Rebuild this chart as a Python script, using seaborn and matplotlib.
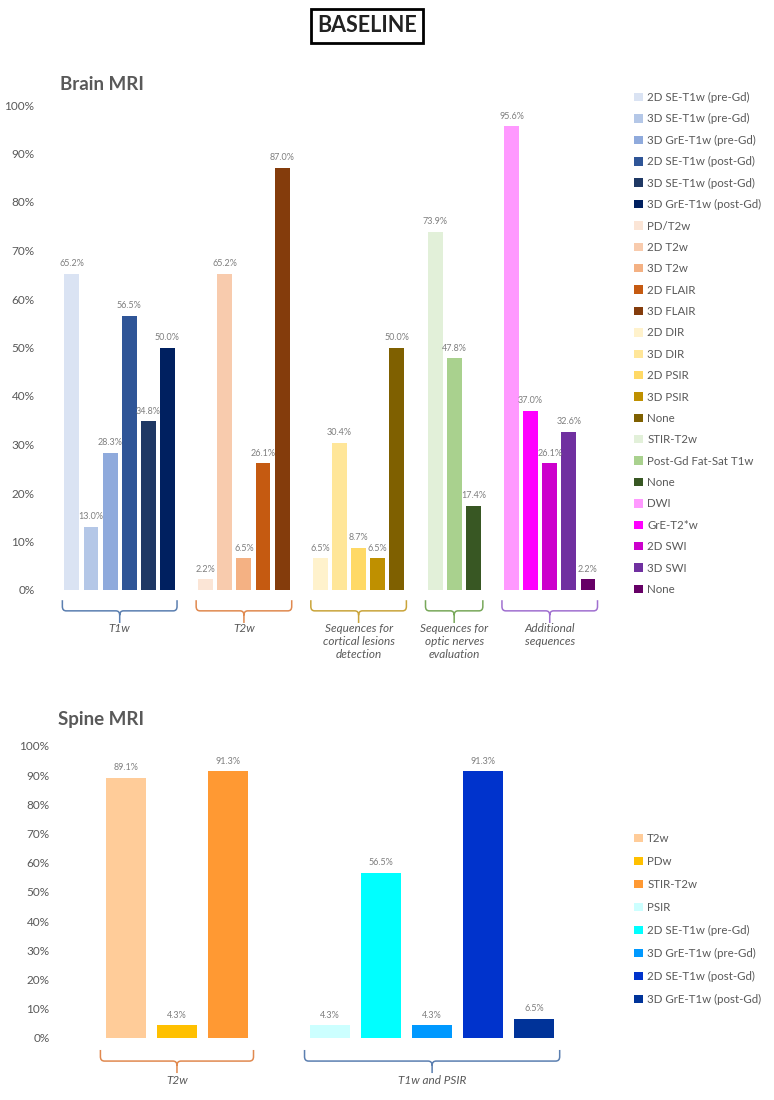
import numpy as np
import pandas as pd
import matplotlib
matplotlib.use('Agg')
import matplotlib.pyplot as plt
import seaborn as sns
from matplotlib.patches import Patch, PathPatch
from matplotlib.path import Path
from matplotlib.ticker import PercentFormatter
from matplotlib.transforms import blended_transform_factory

sns.set_theme(style='white')
plt.rcParams['font.family'] = ['Lato', 'DejaVu Sans']

# ---- data: brain MRI ----
brain_labels = ['2D SE-T1w (pre-Gd)', '3D SE-T1w (pre-Gd)', '3D GrE-T1w (pre-Gd)',
                '2D SE-T1w (post-Gd)', '3D SE-T1w (post-Gd)', '3D GrE-T1w (post-Gd)',
                'PD/T2w', '2D T2w', '3D T2w', '2D FLAIR', '3D FLAIR',
                '2D DIR', '3D DIR', '2D PSIR', '3D PSIR', 'None',
                'STIR-T2w', 'Post-Gd Fat-Sat T1w', 'None',
                'DWI', 'GrE-T2*w', '2D SWI', '3D SWI', 'None']
brain_values = [65.2, 13.0, 28.3, 56.5, 34.8, 50.0,
                2.2, 65.2, 6.5, 26.1, 87.0,
                6.5, 30.4, 8.7, 6.5, 50.0,
                73.9, 47.8, 17.4,
                95.6, 37.0, 26.1, 32.6, 2.2]
brain_colors = ['#dae3f3', '#b4c7e7', '#8faadc', '#2f5597', '#1f3864', '#002060',
                '#fbe5d6', '#f8cbad', '#f4b183', '#c55a11', '#843c0c',
                '#fff2cc', '#ffe699', '#ffd966', '#bf9000', '#7f6000',
                '#e2f0d9', '#a9d18e', '#385723',
                '#ff99ff', '#ff00ff', '#cc00cc', '#7030a0', '#660066']
brain_groups = ['T1w', 'T2w', 'Sequences for\ncortical lesions\ndetection',
                'Sequences for\noptic nerves\nevaluation', 'Additional\nsequences']
brain_group_sizes = [6, 5, 5, 3, 5]
brain_brace_colors = ['#5b7fb0', '#e0894f', '#c9a43a', '#78a85a', '#a070d0']

# ---- data: spine MRI ----
spine_labels = ['T2w', 'PDw', 'STIR-T2w',
                'PSIR', '2D SE-T1w (pre-Gd)', '3D GrE-T1w (pre-Gd)',
                '2D SE-T1w (post-Gd)', '3D GrE-T1w (post-Gd)']
spine_values = [89.1, 4.3, 91.3,
                4.3, 56.5, 4.3, 91.3, 6.5]
spine_colors = ['#ffcc99', '#ffc000', '#ff9933',
                '#ccffff', '#00ffff', '#0099ff', '#0033cc', '#003399']
spine_groups = ['T2w', 'T1w and PSIR']
spine_group_sizes = [3, 5]
spine_brace_colors = ['#e0894f', '#5b7fb0']

GREY = '#595959'
W, H = 774, 1100


def slots(sizes):
    # bar positions with one empty slot between groups
    pos, spans, start = [], [], 0
    for n in sizes:
        pos += list(range(start, start + n))
        spans.append((start - 0.5, start + n - 0.5))
        start += n + 1
    return pos, spans


def brace(ax, x0, x1, y_top, y_mid, y_tip, dy, r, color):
    tr = blended_transform_factory(ax.transData, ax.transAxes)
    xc = (x0 + x1) / 2
    verts = [(x0, y_top), (x0, y_mid + dy), (x0, y_mid), (x0 + r, y_mid),
             (xc - r, y_mid), (xc, y_mid), (xc, y_mid - dy), (xc, y_tip),
             (xc, y_mid - dy), (xc, y_mid), (xc + r, y_mid),
             (x1 - r, y_mid), (x1, y_mid), (x1, y_mid + dy), (x1, y_top)]
    codes = [Path.MOVETO, Path.LINETO, Path.CURVE3, Path.CURVE3,
             Path.LINETO, Path.CURVE3, Path.CURVE3, Path.LINETO,
             Path.MOVETO, Path.CURVE3, Path.CURVE3,
             Path.LINETO, Path.CURVE3, Path.CURVE3, Path.LINETO]
    ax.add_patch(PathPatch(Path(verts, codes), fc='none', ec=color, lw=1.1,
                           transform=tr, clip_on=False))


def draw_panel(ax, labels, values, colors, sizes, groups, brace_colors,
               brace_y, label_y, r):
    pos, spans = slots(sizes)
    df = pd.DataFrame({'pos': pos, 'val': np.array(values) / 100,
                       'key': [str(i) for i in range(len(values))]})
    sns.barplot(data=df, x='pos', y='val', hue='key', palette=colors,
                native_scale=True, dodge=False, width=0.78, saturation=1,
                linewidth=0, legend=False, ax=ax)
    for c in ax.containers:
        ax.bar_label(c, fmt='{:.1%}', fontsize=6.5, color='#7f7f7f', padding=4)
    ax.set_ylim(0, 1)
    ax.set_yticks(np.arange(0, 1.01, 0.1))
    ax.yaxis.set_major_formatter(PercentFormatter(1, decimals=0))
    ax.tick_params(axis='y', length=0, labelsize=8.5, labelcolor=GREY, pad=4)
    ax.set_xticks([])
    ax.set_xlabel('')
    ax.set_ylabel('')
    sns.despine(ax=ax, left=True, bottom=True)
    tr = blended_transform_factory(ax.transData, ax.transAxes)
    for (x0, x1), g, col in zip(spans, groups, brace_colors):
        brace(ax, x0, x1, *brace_y, r, col)
        ax.text((x0 + x1) / 2, label_y, g, transform=tr, ha='center', va='top',
                fontsize=8.5, style='italic', color=GREY, linespacing=1.2)


fig = plt.figure(figsize=(W / 100, H / 100), dpi=100)

# brain axes: 0% at y=590px, 100% at y=105px
ax1 = fig.add_axes([40 / W, 1 - 590 / H, 560 / W, 485 / H])
draw_panel(ax1, brain_labels, brain_values, brain_colors, brain_group_sizes,
           brain_groups, brain_brace_colors,
           (-0.021, -0.043, -0.068, 0.009), -0.068, 0.2)
ax1.set_xlim(-1.67, 27.63)

# spine axes: 0% at y=1038px, 100% at y=746px
ax2 = fig.add_axes([55 / W, 1 - 1038 / H, 545 / W, 292 / H])
draw_panel(ax2, spine_labels, spine_values, spine_colors, spine_group_sizes,
           spine_groups, spine_brace_colors,
           (-0.041, -0.079, -0.12, 0.015), -0.125, 0.08)
ax2.set_xlim(-1.39, 9.29)

# titles
fig.text(367 / W, 1 - 26 / H, 'BASELINE', ha='center', va='center', fontsize=15.5,
         fontweight='bold', color='#222222',
         bbox=dict(boxstyle='square,pad=0.3', fc='white', ec='black', lw=2))
fig.text(60 / W, 1 - 85 / H, 'Brain MRI', ha='left', va='center', fontsize=13.5,
         fontweight='bold', color=GREY)
fig.text(58 / W, 1 - 719 / H, 'Spine MRI', ha='left', va='center', fontsize=13.5,
         fontweight='bold', color=GREY)

# legends
h1 = [Patch(fc=c, ec='none', label=l) for l, c in zip(brain_labels, brain_colors)]
fig.legend(handles=h1, loc='upper left', bbox_to_anchor=(634 / W, 1 - 92 / H),
           frameon=False, fontsize=8.3, labelspacing=0.9, handlelength=0.75,
           handleheight=0.75, handletextpad=0.4, borderaxespad=0, borderpad=0,
           labelcolor=GREY)
h2 = [Patch(fc=c, ec='none', label=l) for l, c in zip(spine_labels, spine_colors)]
fig.legend(handles=h2, loc='upper left', bbox_to_anchor=(634 / W, 1 - 833 / H),
           frameon=False, fontsize=8.3, labelspacing=1.04, handlelength=0.75,
           handleheight=0.75, handletextpad=0.4, borderaxespad=0, borderpad=0,
           labelcolor=GREY)

fig.savefig('out.png', dpi=100, facecolor='white')
